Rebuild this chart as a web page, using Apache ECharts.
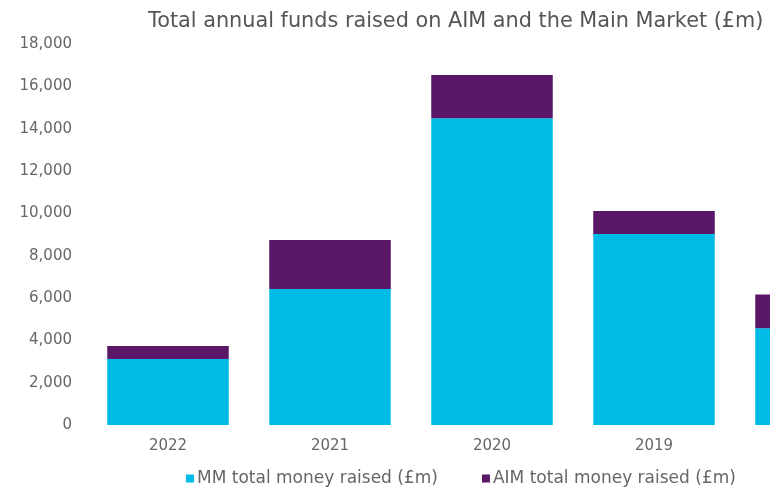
<!DOCTYPE html>
<html>
<head>
<meta charset="utf-8">
<script src="https://cdn.jsdelivr.net/npm/echarts@6/dist/echarts.min.js"></script>
<style>html,body{margin:0;padding:0;background:#fff;overflow:hidden;width:770px;height:495px}#c{width:897px;height:495px}</style>
</head>
<body>
<div id="c"></div>
<script>
const years = ['2022', '2021', '2020', '2019', '2018'];
const mmRaised = [3120, 6420, 14490, 9020, 4570];
const aimRaised = [610, 2320, 2040, 1090, 1600];
const yTicks = { min: 0, max: 18000, interval: 2000 };
const titleText = 'Total annual funds raised on AIM and the Main Market (£m)';
const seriesNames = ['MM total money raised (£m)', 'AIM total money raised (£m)'];

const chart = echarts.init(document.getElementById('c'), null, { renderer: 'canvas' });
const font = 'DejaVu Sans';
chart.setOption({
  backgroundColor: '#fff',
  animation: false,
  title: {
    text: titleText,
    left: 148, top: 11, padding: 0,
    textStyle: { fontFamily: font, fontSize: 20.8, fontWeight: 'normal', color: '#555' }
  },
  legend: {
    data: seriesNames,
    left: 186, top: 470, padding: 0,
    icon: 'rect', itemWidth: 8, itemHeight: 8, itemGap: 44,
    textStyle: { fontFamily: font, fontSize: 17, color: '#666', padding: [0, 0, 0, -2] }
  },
  grid: { left: 87, right: 0, top: 44, bottom: 70, containLabel: false },
  xAxis: {
    type: 'category', data: years,
    axisLine: { show: false }, axisTick: { show: false },
    axisLabel: { margin: 14, fontFamily: font, fontSize: 15, color: '#666' }
  },
  yAxis: {
    type: 'value', min: yTicks.min, max: yTicks.max, interval: yTicks.interval,
    splitLine: { show: false }, axisLine: { show: false }, axisTick: { show: false },
    axisLabel: {
      margin: 15, fontFamily: font, fontSize: 15, color: '#666',
      formatter: v => v.toLocaleString('en-US')
    }
  },
  series: [
    { name: seriesNames[0], type: 'bar', stack: 'total', data: mmRaised, barWidth: '75%',
      itemStyle: { color: '#00BBE6' } },
    { name: seriesNames[1], type: 'bar', stack: 'total', data: aimRaised, barWidth: '75%',
      itemStyle: { color: '#5A1768' } }
  ]
});
</script>
</body>
</html>
